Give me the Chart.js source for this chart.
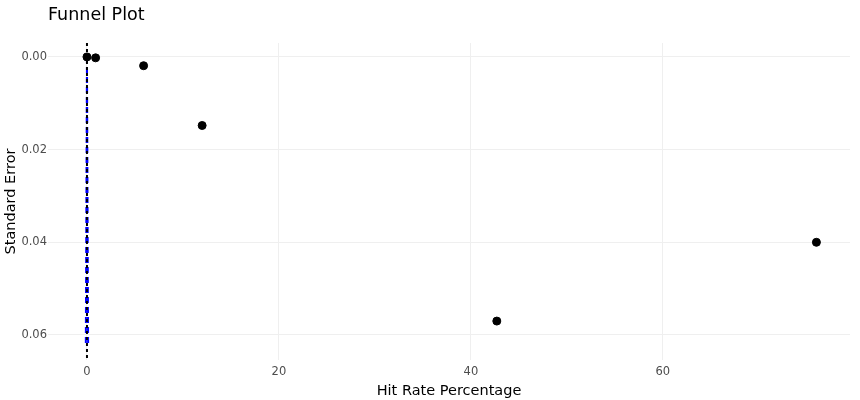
<!DOCTYPE html>
<html>
<head>
<meta charset="utf-8">
<script src="https://cdn.jsdelivr.net/npm/chart.js@4.4.0/dist/chart.umd.min.js"></script>
<style>
  html, body { margin: 0; padding: 0; background: #fff; }
  #wrap { width: 860px; height: 400px; }
</style>
</head>
<body>
<div id="wrap"><canvas id="funnel"></canvas></div>
<script>
// Data
const hitRate = [0, 0.9, 5.9, 12.0, 42.7, 76.0];
const stdError = [0.0000, 0.0002, 0.0019, 0.0148, 0.0570, 0.0400];

// reference line and funnel limits
const refLineX = [0, 0];
const refLineY = [-0.003, 0.0654];
const funnelLowX = [0, -0.12];
const funnelHighX = [0, 0.12];
const funnelY = [0, 0.0624];

const xTicks = [0, 20, 40, 60];
const yTicks = [0, 0.02, 0.04, 0.06];

const FONT = "'DejaVu Sans', Verdana, sans-serif";

function toPoints(xs, ys) {
  return xs.map((x, i) => ({ x: x, y: ys[i] }));
}

const ctx = document.getElementById('funnel').getContext('2d');

new Chart(ctx, {
  type: 'scatter',
  data: {
    datasets: [
      {
        label: 'studies',
        data: toPoints(hitRate, stdError),
        backgroundColor: '#000',
        borderColor: '#000',
        pointRadius: 4,
        pointHoverRadius: 4,
        order: 0
      },
      {
        label: 'ref',
        data: toPoints(refLineX, refLineY),
        showLine: true,
        borderColor: '#000',
        borderWidth: 2,
        borderDash: [3, 3],
        pointRadius: 0,
        order: 1
      },
      {
        label: 'lower',
        data: toPoints(funnelLowX, funnelY),
        showLine: true,
        borderColor: '#0000ff',
        borderWidth: 2,
        borderDash: [6, 4],
        pointRadius: 0,
        order: 2
      },
      {
        label: 'upper',
        data: toPoints(funnelHighX, funnelY),
        showLine: true,
        borderColor: '#0000ff',
        borderWidth: 2,
        borderDash: [6, 4],
        pointRadius: 0,
        order: 2
      }
    ]
  },
  options: {
    responsive: true,
    maintainAspectRatio: false,
    animation: false,
    layout: { padding: { left: 0, right: 10, top: 0, bottom: 0 } },
    plugins: {
      legend: { display: false },
      tooltip: { enabled: false },
      title: {
        display: true,
        text: 'Funnel Plot',
        align: 'start',
        fullSize: false,
        color: '#000',
        font: { family: FONT, size: 17.5, weight: 'normal' },
        padding: { top: 5, bottom: 17 }
      }
    },
    scales: {
      x: {
        type: 'linear',
        min: -4.06,
        max: 79.5,
        afterBuildTicks: s => { s.ticks = xTicks.map(v => ({ value: v })); },
        afterFit: s => { s.height = 40; },
        grid: { color: '#efefef', drawTicks: false },
        border: { display: false },
        ticks: {
          color: '#4d4d4d',
          padding: 5,
          font: { family: FONT, size: 11.5 }
        },
        title: {
          display: true,
          text: 'Hit Rate Percentage',
          color: '#000',
          font: { family: FONT, size: 14.5 },
          padding: { top: 6, bottom: 0 }
        }
      },
      y: {
        type: 'linear',
        reverse: true,
        min: -0.003,
        max: 0.0654,
        afterBuildTicks: s => { s.ticks = yTicks.map(v => ({ value: v })); },
        afterFit: s => { s.width = 48; },
        grid: { color: '#efefef', drawTicks: false },
        border: { display: false },
        ticks: {
          color: '#4d4d4d',
          padding: 1,
          font: { family: FONT, size: 11.5 },
          callback: v => v.toFixed(2)
        },
        title: {
          display: true,
          text: 'Standard Error',
          color: '#000',
          font: { family: FONT, size: 14.5 },
          padding: { top: 3, bottom: 0 }
        }
      }
    }
  }
});
</script>
</body>
</html>
